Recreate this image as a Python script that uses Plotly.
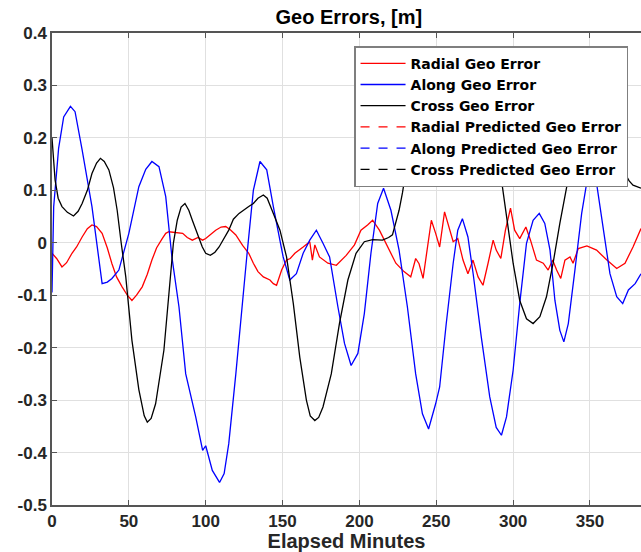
import plotly.graph_objects as go

# ---------------- data ----------------
radial_x = [0, 3, 6.5, 9.5, 13, 16, 19.6, 23, 26, 29, 32.6, 36, 39, 42, 45.6, 49, 52, 55, 58.7, 62,
            65, 68, 71.7, 74, 76, 80, 85, 88, 91.3, 95, 98, 100, 103, 106.5, 110, 113, 116, 119.6,
            124, 128, 131, 134, 137.5, 141.8, 144, 146.1, 149.4, 152.6, 155, 158, 163.4, 167.7,
            169.4, 171, 174, 179.5, 185, 191.4, 196.8, 201, 205.3, 208.6, 213, 218.4, 223.7, 229,
            233.4, 236.6, 238.8, 241.4, 244.2, 246.8, 249.6, 252.2, 255.4, 257.6, 261, 264, 267.4,
            270.6, 273.9, 277.2, 280.4, 283.7, 287, 289, 292, 295, 298.3, 301, 304.3, 308.3, 311.3,
            315.2, 319.6, 322.8, 325.7, 328.3, 331, 333.7, 337, 339, 342.4, 348, 354.3, 361, 367.4,
            372.8, 378, 383.2]
radial_y = [-0.02, -0.03, -0.046, -0.038, -0.02, -0.008, 0.011, 0.027, 0.034, 0.031, 0.018, -0.01,
            -0.04, -0.065, -0.084, -0.1, -0.11, -0.1, -0.084, -0.06, -0.033, -0.01, 0.008, 0.018,
            0.021, 0.02, 0.018, 0.01, 0.005, 0.01, 0.005, 0.008, 0.015, 0.024, 0.03, 0.031, 0.025,
            0.015, -0.005, -0.02, -0.039, -0.055, -0.065, -0.071, -0.078, -0.081, -0.052, -0.033,
            -0.03, -0.02, -0.008, 0.002, -0.033, -0.004, -0.027, -0.039, -0.043, -0.024, -0.004,
            0.024, 0.034, 0.043, 0.024, -0.008, -0.039, -0.055, -0.065, -0.03, -0.04, -0.068,
            -0.008, 0.043, 0.018, -0.008, 0.059, 0.037, 0.002, 0.008, -0.033, -0.059, -0.033,
            -0.065, -0.081, -0.039, 0.005, -0.014, -0.03, 0.024, 0.066, 0.024, 0.008, 0.03, 0.005,
            -0.033, -0.039, -0.052, -0.033, -0.052, -0.068, -0.033, -0.027, -0.039, -0.011, -0.006,
            -0.014, -0.033, -0.049, -0.039, -0.008, 0.027]

along_x = [0, 1.1, 4.3, 7.6, 12, 15, 19.6, 26, 32.6, 36, 39, 43.5, 50, 56.5, 61, 65, 69.6, 74, 78,
           82.6, 87, 93.5, 98, 100, 104.3, 109, 112, 115, 119.6, 124, 126.7, 131, 135.3, 139.7, 144,
           150.4, 154.7, 159, 163.4, 167.7, 172, 176.3, 180.6, 186, 190.3, 194.6, 199, 203.2, 207.5,
           211.9, 215.7, 220.5, 225.8, 231.2, 236.6, 241, 245, 249.6, 252.2, 256.5, 261, 264, 267,
           270.6, 274, 279.3, 284.8, 289, 292.4, 295.7, 300, 304.3, 308.7, 313, 317, 320.6, 324,
           327.2, 330.4, 333, 335.9, 340.2, 344.6, 347.8, 350.4, 354.3, 358.7, 363, 367.4, 371.3,
           375, 379.4, 383.2]
along_y = [-0.095, 0.069, 0.18, 0.24, 0.26, 0.25, 0.177, 0.069, -0.078, -0.075, -0.068, -0.052,
           0.018, 0.107, 0.14, 0.155, 0.145, 0.088, -0.027, -0.122, -0.25, -0.332, -0.396, -0.387,
           -0.434, -0.457, -0.44, -0.383, -0.25, -0.103, -0.027, 0.1, 0.155, 0.139, 0.069, -0.027,
           -0.071, -0.059, -0.02, 0.005, 0.024, -0.001, -0.027, -0.122, -0.192, -0.234, -0.211,
           -0.135, -0.02, 0.075, 0.104, 0.062, -0.014, -0.122, -0.25, -0.326, -0.355, -0.307,
           -0.275, -0.154, -0.039, 0.024, 0.046, 0.011, -0.059, -0.18, -0.294, -0.352, -0.367,
           -0.332, -0.243, -0.116, -0.001, 0.043, 0.056, 0.037, -0.014, -0.11, -0.167, -0.189,
           -0.154, -0.052, 0.056, 0.113, 0.139, 0.113, 0.024, -0.059, -0.103, -0.116, -0.09,
           -0.078, -0.059]

cross_x = [0, 2, 4, 6.5, 10, 14, 17, 19.6, 23, 26, 29, 31.5, 34, 37, 40, 42.4, 45, 48, 52, 56.5,
           60, 62, 64.5, 67.4, 72.8, 77, 79, 81.5, 84, 86.5, 89, 91.3, 94, 97.8, 100, 103, 106,
           108.7, 115, 118, 121.7, 125, 128, 131, 134, 137.5, 140, 144, 148.3, 152.6, 157, 161.2,
           165.5, 168, 171, 173.5, 176.3, 181.7, 187, 192.5, 197.8, 203.2, 208.6, 215, 219, 221.5,
           223.5, 225.8, 228, 230, 233.4, 240, 248, 256, 264, 272, 280, 289, 292.4, 295.7, 300,
           304.3, 308.7, 313, 317.4, 321.7, 326, 330.4, 334.8, 339, 343, 348, 353, 358, 363,
           368.5, 372.8, 375.5, 378, 383.2]
cross_y = [0.2, 0.12, 0.085, 0.069, 0.058, 0.051, 0.06, 0.075, 0.1, 0.132, 0.152, 0.161, 0.155,
           0.139, 0.105, 0.062, 0.0, -0.065, -0.186, -0.28, -0.33, -0.342, -0.335, -0.307, -0.205,
           -0.059, 0.0, 0.043, 0.068, 0.075, 0.062, 0.043, 0.02, -0.008, -0.02, -0.024, -0.018,
           -0.008, 0.024, 0.045, 0.056, 0.062, 0.069, 0.075, 0.085, 0.091, 0.085, 0.056, 0.024,
           -0.027, -0.116, -0.218, -0.3, -0.33, -0.339, -0.333, -0.313, -0.25, -0.154, -0.071,
           -0.02, 0.002, 0.006, 0.005, 0.01, 0.015, 0.035, 0.062, 0.095, 0.132, 0.183, 0.26, 0.31,
           0.33, 0.32, 0.29, 0.24, 0.171, 0.12, 0.05, -0.039, -0.11, -0.145, -0.154, -0.141,
           -0.103, -0.039, 0.037, 0.107, 0.171, 0.22, 0.25, 0.26, 0.245, 0.21, 0.168, 0.132,
           0.118, 0.11, 0.104]

x_ticks = [0, 50, 100, 150, 200, 250, 300, 350]
y_ticks = [0.4, 0.3, 0.2, 0.1, 0, -0.1, -0.2, -0.3, -0.4, -0.5]
y_tick_labels = ["0.4", "0.3", "0.2", "0.1", "0", "-0.1", "-0.2", "-0.3", "-0.4", "-0.5"]

names = ["Radial Geo Error", "Along Geo Error", "Cross Geo Error",
         "Radial Predicted Geo Error", "Along Predicted Geo Error", "Cross Predicted Geo Error"]
colors = ["#ff0000", "#0000ff", "#000000"]

# ---------------- figure ----------------
fig = go.Figure()
series = [(radial_x, radial_y), (along_x, along_y), (cross_x, cross_y)]
for (xs, ys), nm, c in zip(series, names[:3], colors):
    fig.add_trace(go.Scatter(x=xs, y=ys, mode="lines", name=nm,
                             line=dict(color=c, width=1.3)))
for nm, c in zip(names[3:], colors):
    fig.add_trace(go.Scatter(x=[None], y=[None], mode="lines", name=nm,
                             line=dict(color=c, width=1.3, dash="dash")))

tick_font = dict(family="Liberation Sans", size=17, color="#262626", weight="bold")
axis_common = dict(showline=True, linecolor="#555555", linewidth=1.5,
                   ticks="inside", ticklen=5, tickcolor="#555555", tickwidth=1,
                   showgrid=True, gridcolor="#e0e0e0", gridwidth=1,
                   zeroline=False, tickfont=tick_font, automargin=False)

fig.update_layout(
    width=641, height=552, autosize=False,
    margin=dict(l=52, r=0, t=33, b=47),
    paper_bgcolor="white", plot_bgcolor="white",
    title=dict(text="Geo Errors, [m]", x=0.504, xref="paper", xanchor="center",
               y=1 - 17 / 552, yref="container", yanchor="middle",
               font=dict(family="Liberation Sans", size=20, color="#000000", weight="bold")),
    xaxis=dict(range=[0, 383.2], tickvals=x_ticks, mirror="ticks",
               title=dict(text="Elapsed Minutes", standoff=3,
                          font=dict(family="Liberation Sans", size=20, color="#262626",
                                    weight="bold")),
               **axis_common),
    yaxis=dict(range=[-0.5, 0.4], tickvals=y_ticks, ticktext=y_tick_labels, **axis_common),
    legend=dict(x=0.978, y=0.972, xanchor="right", yanchor="top",
                bgcolor="white", bordercolor="#7f7f7f", borderwidth=1.5,
                itemwidth=45, tracegroupgap=0,
                font=dict(family="DejaVu Sans", size=14, color="#000000", weight="bold")),
    showlegend=True,
)

fig.write_html("out.html", config={"displayModeBar": False},
               post_script="document.body.style.margin='0';document.body.style.overflow='hidden';")
